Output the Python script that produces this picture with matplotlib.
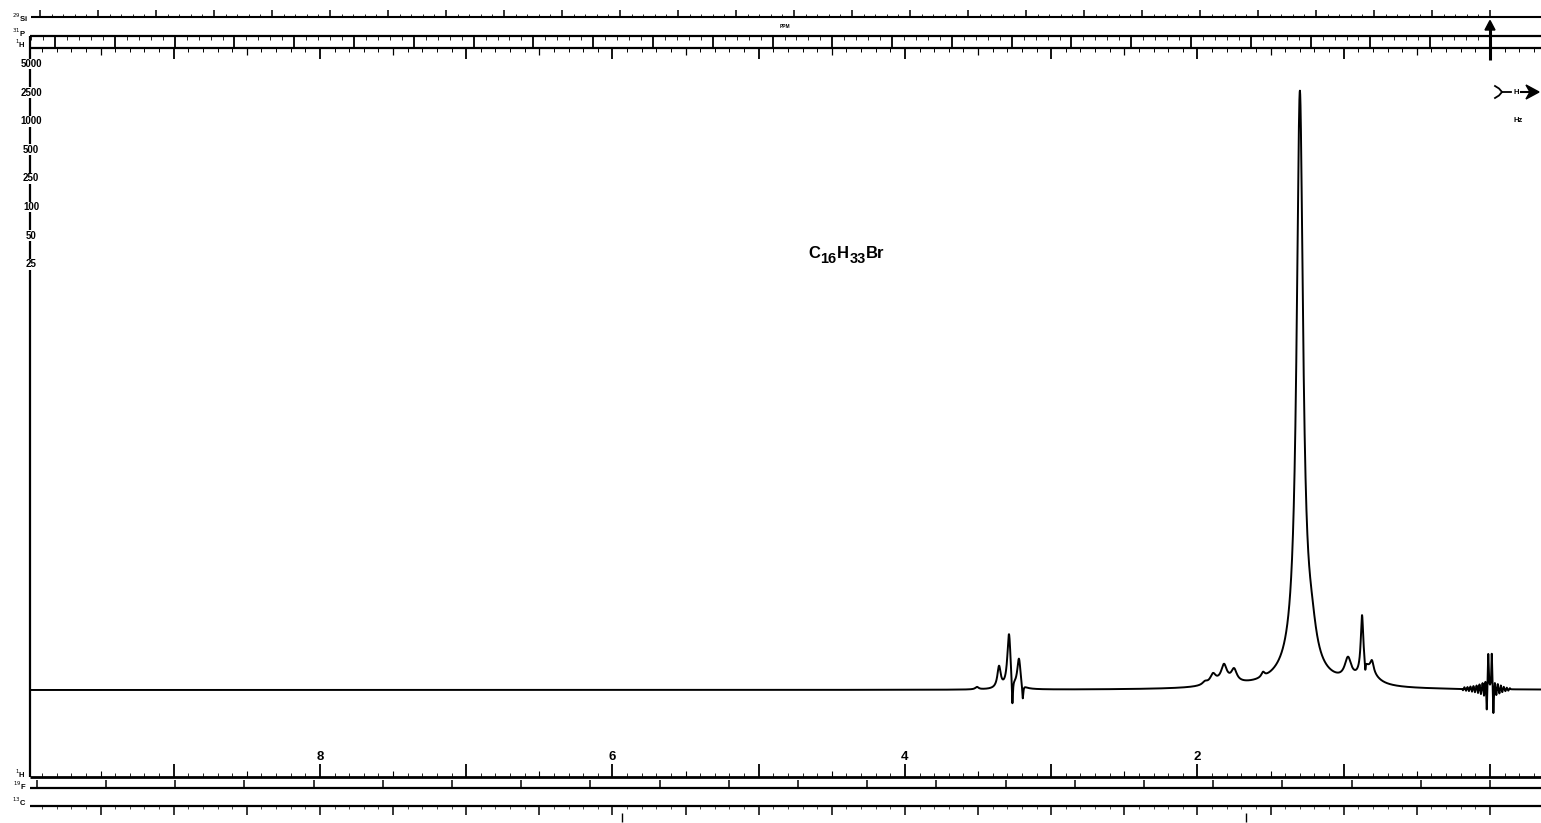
import numpy as np
import matplotlib
matplotlib.use("Agg")
import matplotlib.pyplot as plt
import matplotlib.transforms as mtransforms
from matplotlib.collections import LineCollection

# ---------------------------------------------------------------- data
# 1H spectrum of 1-bromohexadecane, built from Lorentzian lines:
# chemical shift (ppm), height (relative, main line = 100), half-width (ppm)
line_ppm = [1.30, 1.30, 1.30, 1.22,
            3.357, 3.289, 3.221, 3.266, 3.195, 3.508,
            1.949, 1.894, 1.819, 1.750, 1.819, 1.552,
            0.971, 0.875, 0.807, 0.834, 0.853]
line_height = [94.5, 3.0, 1.0, 4.5,
               3.6, 9.1, 4.9, -5.1, -2.7, 0.4,
               0.5, 1.5, 2.6, 2.0, 0.8, 0.8,
               3.5, 9.4, 1.8, 2.5, -1.8]
line_hwhm = [0.026, 0.10, 0.30, 0.041,
             0.0137, 0.0137, 0.0137, 0.0048, 0.0048, 0.0137,
             0.0205, 0.0225, 0.0225, 0.0225, 0.10, 0.0137,
             0.027, 0.0103, 0.0137, 0.068, 0.0034]

# TMS reference at 0 ppm with the recorder ringing around it
tms_ppm = [0.185, 0.175, 0.164, 0.154, 0.144, 0.134, 0.123, 0.113, 0.103,
           0.092, 0.082, 0.072, 0.062, 0.051, 0.041, 0.031,
           0.022, 0.012, -0.012, -0.023,
           -0.033, -0.043, -0.053, -0.064, -0.074, -0.084, -0.094,
           -0.105, -0.115, -0.125, -0.136]
tms_height = [-0.25, 0.3, -0.35, 0.35, -0.4, 0.45, -0.5, 0.55, -0.6,
              0.65, -0.75, 0.85, -0.95, 1.1, -1.25, 1.5,
              -4.2, 6.1, 6.1, -4.6,
              1.3, -1.1, 0.95, -0.8, 0.7, -0.55, 0.45,
              -0.35, 0.3, -0.25, 0.2]
tms_hwhm = [0.0027] * 16 + [0.0030, 0.0034, 0.0034, 0.0030] + [0.0027] * 11

# axis annotations
ppm_labels = [8, 6, 4, 2]
gain_labels = ["5000", "2500", "1000", "500", "250", "100", "50", "25"]
formula_parts = ["C", "16", "H", "33", "Br"]
formula_sub = [False, True, False, True, False]

# spacing of the auxiliary nucleus scales, in 1H ppm per division
si_step = 0.3966
p_step = 0.4088
f_step = 0.4732
c_step = 0.5

# ---------------------------------------------------------------- layout
W, H = 1541, 823
PX_PER_PPM = 146.25
ZERO_PX = 1490.0
BASE_PX = 690.0
PX_PER_UNIT = 6.02


def ppm_at(px):
    return (ZERO_PX - px) / PX_PER_PPM


fig = plt.figure(figsize=(W / 100, H / 100), dpi=100)
fig.patch.set_facecolor("white")
ax = fig.add_axes([0, 0, 1, 1])
ax.set_xlim(ppm_at(0), ppm_at(W))
ax.set_ylim(-(H - BASE_PX) / PX_PER_UNIT, BASE_PX / PX_PER_UNIT)
ax.axis("off")

# pixel coordinates (origin top-left) and ppm-x / pixel-y blend
PIX = mtransforms.Affine2D().scale(1 / W, -1 / H).translate(0, 1) + fig.transFigure
XP = mtransforms.blended_transform_factory(ax.transData, PIX)

LBL = dict(family="Liberation Sans", weight="bold", color="black")


def hline(x0, x1, y, lw):
    ax.plot([x0, x1], [y, y], transform=PIX, color="black", lw=lw,
            solid_capstyle="butt", clip_on=False)


def ticks(ppms, y0, y1, lw):
    segs = [[(p, y0), (p, y1)] for p in ppms if ppm_at(W) <= p <= ppm_at(29)]
    ax.add_collection(LineCollection(segs, colors="black", linewidths=lw,
                                     transform=XP, clip_on=False,
                                     capstyle="butt"))


# ---------------------------------------------------------------- spectrum
x = np.linspace(ppm_at(30.5), ppm_at(W), 15000)
y = np.zeros_like(x)
for c, h, g in zip(line_ppm + tms_ppm, line_height + tms_height,
                   line_hwhm + tms_hwhm):
    y += h * g * g / (g * g + (x - c) ** 2)
ax.plot(x, y, color="black", lw=1.4, solid_joinstyle="round")

# ---------------------------------------------------------------- top scales
# 29Si
hline(31, W, 17, 1.5)
si_major = [k * si_step for k in range(0, 27)]
ticks(si_major, 17, 10, 1.1)
ticks([m + j * si_step / 5 for m in si_major for j in range(1, 5)], 17, 14, 0.6)
ax.text(28, 18, r"$^{29}$Si", transform=PIX, ha="right", va="center",
        fontsize=5.5, **LBL)
ax.text(ppm_at(785), 27, "PPM", transform=XP, ha="center", va="center",
        fontsize=3.4, **LBL)

# 31P / 1H box
hline(30, W, 36.5, 1.6)
hline(30, W, 48, 1.6)
p_div = [k * p_step for k in range(0, 25)]
ticks(p_div, 36.5, 48, 1.3)
ticks([m + j * p_step / 5 for m in p_div for j in range(1, 5)], 36.5, 40.5, 0.6)
ax.text(26, 33, r"$^{31}$P", transform=PIX, ha="right", va="center",
        fontsize=5.5, **LBL)
ax.text(26, 44, r"$^{1}$H", transform=PIX, ha="right", va="center",
        fontsize=5.5, **LBL)

# 1H ppm ticks hanging below the box
h_idx = list(range(-3, 100))
ticks([k * 0.1 for k in h_idx if k % 10 == 0], 48, 59, 1.3)
ticks([k * 0.1 for k in h_idx if k % 10 == 5], 48, 55, 0.9)
ticks([k * 0.1 for k in h_idx if k % 5 != 0], 48, 52.5, 0.7)

# reference arrow at 0 ppm
ax.plot([0, 0], [60, 28], transform=XP, color="black", lw=2.2,
        solid_capstyle="butt", clip_on=False)
ax.fill([ppm_at(1485), 0, ppm_at(1495)], [30, 20.5, 30], transform=XP,
        color="black", clip_on=False)

# ---------------------------------------------------------------- left gain axis
ax.plot([30.5, 30.5], [36.5, 777], transform=PIX, color="black", lw=1.6,
        solid_capstyle="butt", clip_on=False)
for i, s in enumerate(gain_labels):
    ax.text(31, 64 + i * 28.6, s, transform=PIX, ha="center", va="center",
            fontsize=7, bbox=dict(facecolor="white", edgecolor="none", pad=0.3),
            **LBL)

# ---------------------------------------------------------------- bottom scales
hline(30, W, 777, 2.0)
ticks([k * 0.1 for k in h_idx if k % 10 == 0], 777, 764, 1.3)
ticks([k * 0.1 for k in h_idx if k % 10 == 5], 777, 771, 0.8)
ticks([k * 0.1 for k in h_idx if k % 5 != 0], 777, 773.5, 0.6)
for v in ppm_labels:
    ax.text(v, 757, str(v), transform=XP, ha="center", va="center",
            fontsize=9.5, **LBL)
ax.text(26, 774, r"$^{1}$H", transform=PIX, ha="right", va="center",
        fontsize=5.5, **LBL)

# 19F
hline(30, W, 788.5, 1.6)
ticks([k * f_step for k in range(0, 22)], 788.5, 780, 1.1)
ax.text(26, 786, r"$^{19}$F", transform=PIX, ha="right", va="center",
        fontsize=5.5, **LBL)

# 13C
hline(30, W, 806, 1.6)
c_major = [k * c_step for k in range(0, 20)]
ticks(c_major, 806, 815, 1.1)
ticks([m + j * c_step / 5 for m in c_major for j in range(1, 5)], 806, 809, 0.5)
ticks([ppm_at(622), ppm_at(1246)], 813, 822, 1.0)
ax.text(26, 802, r"$^{13}$C", transform=PIX, ha="right", va="center",
        fontsize=5.5, **LBL)

# ---------------------------------------------------------------- sweep symbol
ax.plot([1495, 1499, 1502, 1499, 1495], [86, 88.5, 92, 95.5, 98],
        transform=PIX, color="black", lw=1.3, clip_on=False)
ax.plot([1502, 1511], [92, 92], transform=PIX, color="black", lw=1.3,
        clip_on=False)
ax.text(1516, 92.5, "H", transform=PIX, ha="center", va="center",
        fontsize=5.5, **LBL)
ax.plot([1521, 1531], [92, 92], transform=PIX, color="black", lw=1.5,
        clip_on=False)
ax.fill([1526, 1539, 1526, 1530], [85, 92, 99, 92], transform=PIX,
        color="black", clip_on=False)
ax.text(1518, 120, "Hz", transform=PIX, ha="center", va="center",
        fontsize=5.5, **LBL)

# ---------------------------------------------------------------- formula
fig.canvas.draw()
renderer = fig.canvas.get_renderer()
cx = 808.0
for part, sub in zip(formula_parts, formula_sub):
    t = ax.text(cx, 263 if sub else 257.5, part, transform=PIX,
                ha="left", va="baseline", fontsize=10.5 if sub else 12, **LBL)
    bb = t.get_window_extent(renderer)
    cx += bb.width * W / fig.bbox.width + 0.5

fig.savefig("out.png", dpi=100, facecolor="white")
